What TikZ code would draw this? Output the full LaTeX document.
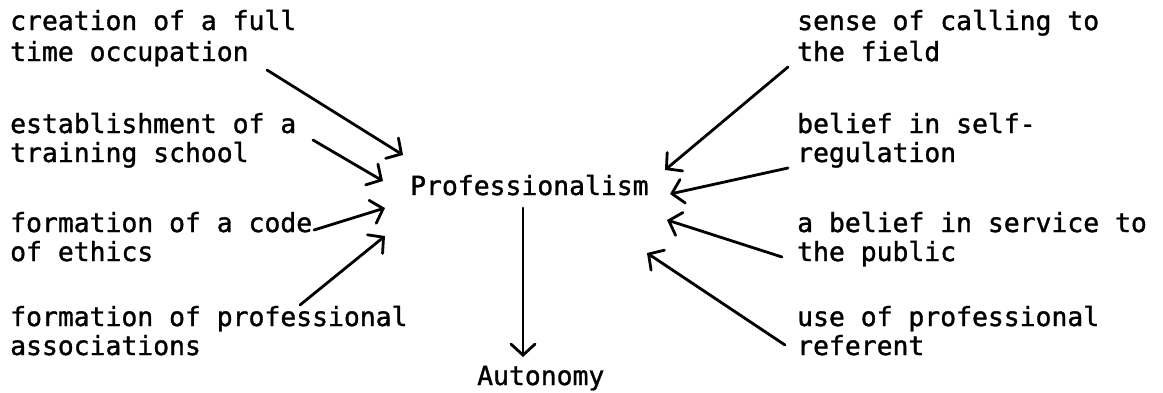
\documentclass[tikz,border=0pt]{standalone}
\usepackage{fontspec}
\setmonofont[FakeBold=1.2]{DejaVu Sans Mono}
\usetikzlibrary{arrows.meta}
\begin{document}
\begin{tikzpicture}[x=1pt,y=-1pt,
  lbl/.style={anchor=base west, inner sep=0pt, font=\ttfamily\fontsize{26.4}{30}\selectfont},
  conn/.style={line width=2.8pt, line cap=round, -{Straight Barb[length=11pt,width=24pt,line cap=round]}}]
\useasboundingbox (0,0) rectangle (1163,392);
% left labels
\node[lbl] (c1a) at (10,30) {creation of a full};
\node[lbl] (c1b) at (10,61) {time occupation};
\node[lbl] (c2a) at (10,133) {establishment of a};
\node[lbl] (c2b) at (10,162) {training school};
\node[lbl] (c3a) at (10,232) {formation of a code};
\node[lbl] (c3b) at (10,261) {of ethics};
\node[lbl] (c4a) at (10,326) {formation of professional};
\node[lbl] (c4b) at (10,355) {associations};
% right labels
\node[lbl] (r1a) at (797,30) {sense of calling to};
\node[lbl] (r1b) at (797,61) {the field};
\node[lbl] (r2a) at (797,133) {belief in self-};
\node[lbl] (r2b) at (797,162) {regulation};
\node[lbl] (r3a) at (797,232) {a belief in service to};
\node[lbl] (r3b) at (797,261) {the public};
\node[lbl] (r4a) at (797,326) {use of professional};
\node[lbl] (r4b) at (797,355) {referent};
% centre
\node[lbl] (prof) at (410,195) {Professionalism};
\node[lbl] (aut) at (477,385) {Autonomy};
% connector ends
\coordinate (t1) at (267,70);  \coordinate (h1) at (403,155);
\coordinate (t2) at (313,140); \coordinate (h2) at (383,181);
\coordinate (t3) at (314,230); \coordinate (h3) at (385,208);
\coordinate (t4) at (300,305); \coordinate (h4) at (385,236);
\coordinate (t5) at (788,67);  \coordinate (h5) at (665,170);
\coordinate (t6) at (788,168); \coordinate (h6) at (670,194);
\coordinate (t7) at (782,257); \coordinate (h7) at (667,220);
\coordinate (t8) at (785,345); \coordinate (h8) at (647,253);
\coordinate (t9) at (523,208); \coordinate (h9) at (523,357);
\draw[conn] (t1) -- (h1);
\draw[conn] (t2) -- (h2);
\draw[conn] (t3) -- (h3);
\draw[conn] (t4) -- (h4);
\draw[conn] (t5) -- (h5);
\draw[conn] (t6) -- (h6);
\draw[conn] (t7) -- (h7);
\draw[conn] (t8) -- (h8);
\draw[conn] (t9) -- (h9);
\end{tikzpicture}
\end{document}
